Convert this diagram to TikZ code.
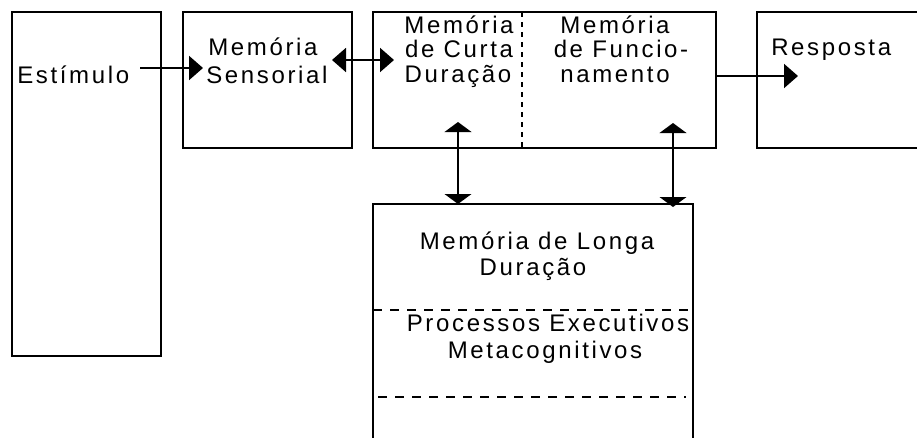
\documentclass[tikz,border=0pt]{standalone}
\usepackage{fontspec}
\newfontfamily\lblfont{Liberation Sans}[LetterSpace=11]
\usetikzlibrary{arrows.meta}
\tikzset{
  box/.style={draw=black, line width=1.5pt, line join=miter},
  vdash/.style={draw=black, line width=1.5pt, dash pattern=on 3.75pt off 3.75pt},
  hdash/.style={draw=black, line width=1.3pt, dash pattern=on 6.5pt off 6.25pt},
  lbl/.style={font=\lblfont\fontsize{18pt}{20pt}\selectfont, inner sep=0pt, text=black},
  harrow/.style={draw=black, line width=1.5pt, -{Triangle[length=10.5pt,width=18pt]}},
  hdarrow/.style={draw=black, line width=1.5pt, {Triangle[length=10.5pt,width=18pt]}-{Triangle[length=10.5pt,width=18pt]}},
  vdarrow/.style={draw=black, line width=1.5pt, {Triangle[length=7.5pt,width=20pt]}-{Triangle[length=7.5pt,width=20pt]}}
}
\begin{document}
\begin{tikzpicture}[x=0.75pt,y=-0.75pt]
\useasboundingbox (0,0) rectangle (917,437);
\fill[white] (0,0) rectangle (917,437);
% boxes
\draw[box] (12,12) rectangle (161,356);
\draw[box] (183,12) rectangle (352,148);
\draw[box] (373,12) rectangle (716,148);
\draw[box] (935,12) -- (757,12) -- (757,148) -- (935,148);
\draw[box] (373,455) -- (373,204) -- (693,204) -- (693,455);
\draw[vdash] (522,12) -- (522,148);
\draw[hdash] (373,310) -- (693,310);
\draw[hdash] (378,397) -- (686,397);
% texts
\node[lbl, anchor=base west] (tStim) at (17,83) {Estímulo};
\node[lbl, anchor=base west] (tSens1) at (208,55) {Memória};
\node[lbl, anchor=base west] (tSens2) at (206,83) {Sensorial};
\node[lbl, anchor=base] (tCur1) at (459,33) {Memória};
\node[lbl, anchor=base] (tCur2) at (459,57.5) {de Curta};
\node[lbl, anchor=base] (tCur3) at (458,82) {Duração};
\node[lbl, anchor=base] (tFun1) at (615,33) {Memória};
\node[lbl, anchor=base] (tFun2) at (621,57.5) {de Funcio-};
\node[lbl, anchor=base] (tFun3) at (615,82) {namento};
\node[lbl, anchor=base west] (tResp) at (771,55) {Resposta};
\node[lbl, anchor=base] (tLtm1) at (537,249) {Memória de Longa};
\node[lbl, anchor=base] (tLtm2) at (533,275) {Duração};
\node[lbl, anchor=base] (tExe1) at (548,331) {Processos Executivos};
\node[lbl, anchor=base] (tExe2) at (545,358) {Metacognitivos};
% connector ends
\coordinate (aStimS) at (140,68);
\coordinate (aStimE) at (203,68);
\coordinate (aSensE) at (332,60);
\coordinate (aCurW) at (394,60);
\coordinate (aMidE) at (716,76);
\coordinate (aRespW) at (798,76);
\coordinate (aCurS) at (458,122);
\coordinate (aLtmN1) at (458,204);
\coordinate (aFunS) at (673,123);
\coordinate (aLtmN2) at (673,207);
% connectors
\draw[harrow] (aStimS) -- (aStimE);
\draw[hdarrow] (aSensE) -- (aCurW);
\draw[harrow] (aMidE) -- (aRespW);
\draw[vdarrow] (aCurS) -- (aLtmN1);
\draw[vdarrow] (aFunS) -- (aLtmN2);
\end{tikzpicture}
\end{document}
